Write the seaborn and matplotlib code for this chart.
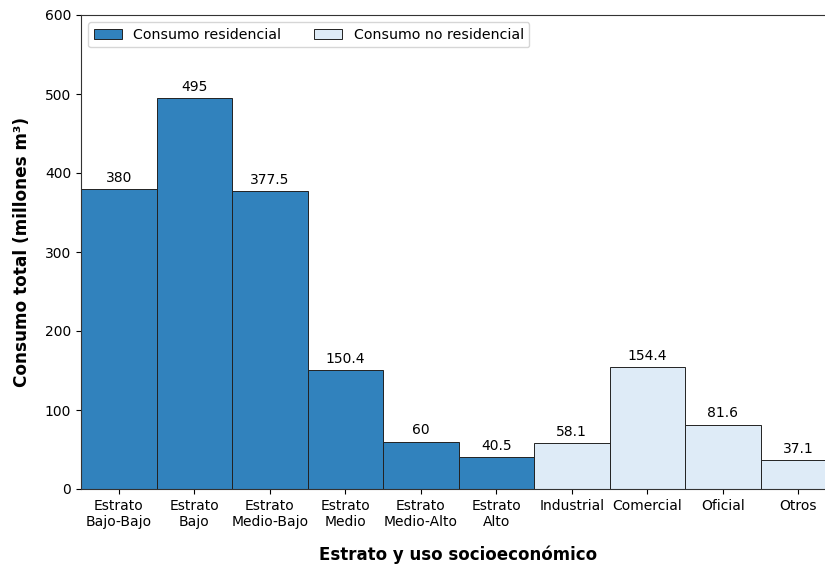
import matplotlib
matplotlib.use("Agg")
import matplotlib.pyplot as plt
import seaborn as sns
import pandas as pd

categories = ["Estrato\nBajo-Bajo", "Estrato\nBajo", "Estrato\nMedio-Bajo", "Estrato\nMedio",
              "Estrato\nMedio-Alto", "Estrato\nAlto", "Industrial", "Comercial", "Oficial", "Otros"]
values = [380, 495, 377.5, 150.4, 60, 40.5, 58.1, 154.4, 81.6, 37.1]
groups = ["Consumo residencial"] * 6 + ["Consumo no residencial"] * 4
palette = {"Consumo residencial": "#3182bd", "Consumo no residencial": "#deebf7"}

df = pd.DataFrame({"cat": categories, "val": values, "grupo": groups})

fig = plt.figure(figsize=(8.25, 5.65), dpi=100)
ax = fig.add_axes([81 / 825, 1 - 489 / 565, (836 - 81) / 825, (489 - 15) / 565])

sns.barplot(data=df, x="cat", y="val", hue="grupo", palette=palette, dodge=False,
            width=1.0, saturation=1, edgecolor="#222222", linewidth=0.7, ax=ax, legend=True)

for c in ax.containers:
    labels = [f"{v:g}" if v == v else "" for v in c.datavalues]
    ax.bar_label(c, labels=labels, padding=3, fontsize=10)

ax.set_ylim(0, 600)
ax.set_xlim(-0.5, 9.5)
ax.set_xlabel("Estrato y uso socioeconómico", fontsize=12, fontweight="bold", labelpad=12)
ax.set_ylabel("Consumo total (millones m³)", fontsize=12.2, fontweight="bold", labelpad=10)
ax.tick_params(labelsize=10)
for s in ax.spines.values():
    s.set_color("#333333")
ax.legend(loc="upper left", ncol=2, fontsize=10.2, frameon=True, columnspacing=2.3)

fig.savefig("out.png", dpi=100)
